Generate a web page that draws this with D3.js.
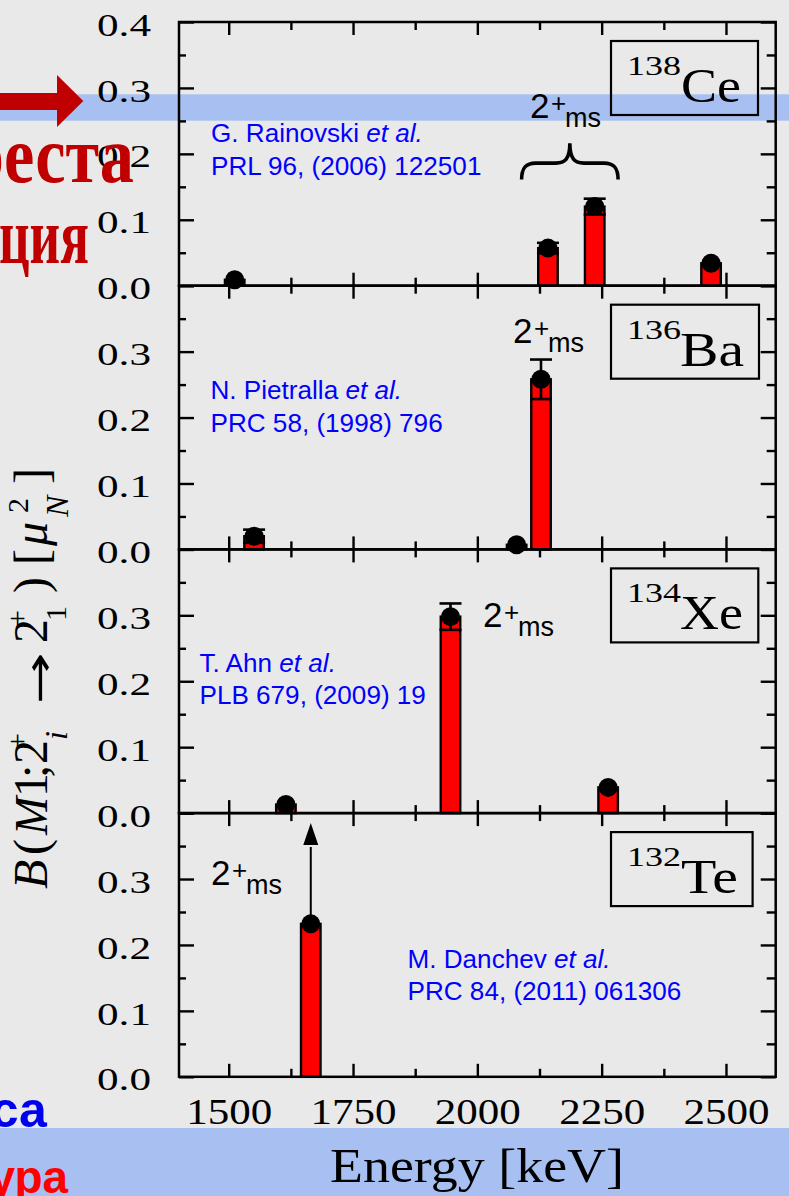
<!DOCTYPE html>
<html><head><meta charset="utf-8">
<script src="https://cdn.jsdelivr.net/npm/d3@7"></script>
<style>html,body{margin:0;padding:0;background:#e9e9e9;overflow:hidden}svg{display:block}</style>
</head><body>
<svg id="c" width="789" height="1196"></svg>
<script>
// ---------------- data ----------------
const massNumbers = ["138", "136", "134", "132"];
const elements    = ["Ce", "Ba", "Xe", "Te"];
const ceEnergy = [1512, 2142, 2236, 2470];
const ceValue  = [0.009, 0.057, 0.120, 0.034];
const ceError  = [0, 0.008, 0.012, 0];
const baEnergy = [1551, 2079, 2128];
const baValue  = [0.020, 0.007, 0.258];
const baError  = [0.010, 0, 0.030];
const xeEnergy = [1615, 1946, 2263];
const xeValue  = [0.013, 0.298, 0.039];
const xeError  = [0, 0.020, 0];
const teEnergy = [1665];
const teValue  = [0.232];
const teError  = [0];
const teLowerLimitTip = [0.385];
const energyTicks = [1500, 1750, 2000, 2250, 2500];
const energyMinor = [1625, 1875, 2125, 2375];
const bTicks = [0, 0.1, 0.2, 0.3, 0.4];
const bMinor = [0.05, 0.15, 0.25, 0.35];
const refAuthors  = ["G. Rainovski", "N. Pietralla", "T. Ahn", "M. Danchev"];
const refJournals = ["PRL 96, (2006) 122501", "PRC 58, (1998) 796", "PLB 679, (2009) 19", "PRC 84, (2011) 061306"];
const msLabel = ["2", "+", "ms"];

// ---------------- layout ----------------
const svg = d3.select("#c");
const SERIF = "'Liberation Serif','Times New Roman',serif";
const SANS = "'Liberation Sans',Arial,sans-serif";
const X0 = 179, X1 = 775.7, TOP = 22, PH = 263.7;
const x = d3.scaleLinear().domain([1400, 2600]).range([X0, X1]);

svg.append("rect").attr("width", 789).attr("height", 1196).attr("fill", "#e9e9e9");
// highlight bands (behind the figure)
svg.append("rect").attr("x", 0).attr("y", 94.3).attr("width", 789).attr("height", 26.4).attr("fill", "#a7c0f1");
svg.append("rect").attr("x", 0).attr("y", 1128).attr("width", 789).attr("height", 68).attr("fill", "#a7c0f1");

const panels = [
  {energy: ceEnergy, value: ceValue, error: ceError},
  {energy: baEnergy, value: baValue, error: baError},
  {energy: xeEnergy, value: xeValue, error: xeError},
  {energy: teEnergy, value: teValue, error: teError}
];

function styleAxis(s) {
  s.select(".domain").remove();
  s.selectAll(".tick line").attr("stroke", "#000").attr("stroke-width", 2.4);
  return s;
}
const BW = 19.5;
const boxW = [147, 148, 147.3, 141.6];
const symW = [60, 64, 63, 57];
const symX = [681, 680, 680, 681];

panels.forEach((p, i) => {
  const top = TOP + i * PH, bot = top + PH;
  const y = d3.scaleLinear().domain([0, 0.4]).range([bot, top]);
  const g = svg.append("g");

  // ticks: top & bottom (inward)
  styleAxis(g.append("g").attr("transform", `translate(0,${top})`)
    .call(d3.axisBottom(x).tickValues(energyTicks).tickSize(13).tickFormat("")));
  styleAxis(g.append("g").attr("transform", `translate(0,${top})`)
    .call(d3.axisBottom(x).tickValues(energyMinor).tickSize(8).tickFormat("")));
  styleAxis(g.append("g").attr("transform", `translate(0,${bot})`)
    .call(d3.axisTop(x).tickValues(energyTicks).tickSize(13).tickFormat("")));
  styleAxis(g.append("g").attr("transform", `translate(0,${bot})`)
    .call(d3.axisTop(x).tickValues(energyMinor).tickSize(8).tickFormat("")));
  // left & right
  styleAxis(g.append("g").attr("transform", `translate(${X0},0)`)
    .call(d3.axisRight(y).tickValues(bTicks).tickSize(15).tickFormat("")));
  styleAxis(g.append("g").attr("transform", `translate(${X0},0)`)
    .call(d3.axisRight(y).tickValues(bMinor).tickSize(7).tickFormat("")));
  styleAxis(g.append("g").attr("transform", `translate(${X1},0)`)
    .call(d3.axisLeft(y).tickValues(bTicks).tickSize(15).tickFormat("")));
  styleAxis(g.append("g").attr("transform", `translate(${X1},0)`)
    .call(d3.axisLeft(y).tickValues(bMinor).tickSize(9).tickFormat("")));

  // y tick labels
  const lab = g.append("g").attr("transform", `translate(${X0},0)`)
    .call(d3.axisLeft(y).tickValues(i === 0 ? bTicks : bTicks.slice(0, 4))
      .tickSize(0).tickPadding(28).tickFormat(d3.format(".1f")));
  lab.select(".domain").remove();
  lab.selectAll("text").attr("font-family", SERIF).attr("font-size", 32).attr("fill", "#000")
    .attr("dy", "0.41em").attr("textLength", 54).attr("lengthAdjust", "spacingAndGlyphs");

  // bars
  const idx = d3.range(p.energy.length);
  g.selectAll("rect.bar").data(idx).join("rect").attr("class", "bar")
    .attr("x", k => x(p.energy[k]) - BW / 2).attr("width", BW)
    .attr("y", k => y(p.value[k])).attr("height", k => y(0) - y(p.value[k]))
    .attr("fill", "#ff0000").attr("stroke", "#000").attr("stroke-width", 2.4);
  // markers
  g.selectAll("circle.pt").data(idx).join("circle").attr("class", "pt")
    .attr("cx", k => x(p.energy[k])).attr("cy", k => y(p.value[k])).attr("r", 9.5).attr("fill", "#000");
  // error bars
  const eb = idx.filter(k => p.error[k] > 0);
  eb.forEach(k => {
    const cx = x(p.energy[k]), y1 = y(p.value[k] + p.error[k]), y2 = y(p.value[k] - p.error[k]);
    g.append("line").attr("x1", cx).attr("x2", cx).attr("y1", y1).attr("y2", y2).attr("stroke", "#000").attr("stroke-width", 2.6);
    [y1, y2].forEach(yy => g.append("line").attr("x1", cx - 11).attr("x2", cx + 11).attr("y1", yy).attr("y2", yy)
      .attr("stroke", "#000").attr("stroke-width", 2.6));
  });

  // frame
  g.append("rect").attr("x", X0).attr("y", top).attr("width", X1 - X0).attr("height", PH)
    .attr("fill", "none").attr("stroke", "#000").attr("stroke-width", 2.5);

  // nucleus box
  g.append("rect").attr("x", 611).attr("y", top + 19).attr("width", boxW[i]).attr("height", 74)
    .attr("fill", "none").attr("stroke", "#000").attr("stroke-width", 2.2);
  const nt = g.append("text").attr("font-family", SERIF).attr("fill", "#000");
  nt.append("tspan").attr("x", 627).attr("y", top + 53).attr("font-size", 27)
    .attr("textLength", 54).attr("lengthAdjust", "spacingAndGlyphs").text(massNumbers[i]);
  nt.append("tspan").attr("x", symX[i]).attr("y", top + 80).attr("font-size", 48)
    .attr("textLength", symW[i]).attr("lengthAdjust", "spacingAndGlyphs").text(elements[i]);

  // bottom panel energy labels
  if (i === 3) {
    const xl = g.append("g").attr("transform", `translate(0,${bot})`)
      .call(d3.axisBottom(x).tickValues(energyTicks).tickSize(0).tickFormat(d3.format("d")));
    xl.select(".domain").remove();
    xl.selectAll("text").attr("font-family", SERIF).attr("font-size", 35).attr("fill", "#000")
      .attr("y", 47).attr("dy", 0).attr("textLength", 86).attr("lengthAdjust", "spacingAndGlyphs");
    // lower-limit arrow
    const ax = x(teEnergy[0]);
    const yTip = y(teLowerLimitTip[0]), yBase = yTip + 22;
    g.append("line").attr("x1", ax).attr("x2", ax).attr("y1", y(teValue[0])).attr("y2", yBase + 2)
      .attr("stroke", "#000").attr("stroke-width", 2);
    g.append("path").attr("d", `M${ax},${yTip} L${ax - 7.5},${yBase} L${ax + 7.5},${yBase} Z`).attr("fill", "#000");
  }
  if (i === 0) {
    // brace over the fragmented 2+ms states
    const bx1 = x(2089), bx2 = x(2283), bm = (bx1 + bx2) / 2;
    const ye = y(0.161), yl = y(0.186), yt = y(0.216);
    g.append("path").attr("d",
      `M${bx1},${ye} C${bx1},${yl + 4} ${bx1 + 5},${yl} ${bx1 + 14},${yl} L${bm - 14},${yl} C${bm - 5},${yl} ${bm},${yl - 4} ${bm},${yt}` +
      ` C${bm},${yl - 4} ${bm + 5},${yl} ${bm + 14},${yl} L${bx2 - 14},${yl} C${bx2 - 5},${yl} ${bx2},${yl + 4} ${bx2},${ye}`)
      .attr("fill", "none").attr("stroke", "#000").attr("stroke-width", 3.6);
  }
});

// 2+ms labels
[[530, 118], [513, 343], [483, 627], [211, 885]].forEach(([x0, y0]) => {
  const t = svg.append("text").attr("font-family", SANS).attr("fill", "#000");
  t.append("tspan").attr("x", x0).attr("y", y0).attr("font-size", 35).text(msLabel[0]);
  t.append("tspan").attr("x", x0 + 21).attr("y", y0 - 6).attr("font-size", 26).text(msLabel[1]);
  t.append("tspan").attr("x", x0 + 35).attr("y", y0 + 9).attr("font-size", 27).text(msLabel[2]);
});

// references
[[211, 142.3], [210.5, 399.3], [199.5, 671.7], [407.5, 967.7]].forEach(([x0, y0], i) => {
  const g = svg.append("g").attr("transform", `translate(${x0},0) scale(1.045,1)`)
    .attr("font-family", SANS).attr("font-size", 25).attr("fill", "#0000ff");
  const t1 = g.append("text").attr("x", 0).attr("y", y0);
  t1.append("tspan").text(refAuthors[i] + " ");
  t1.append("tspan").attr("font-style", "italic").text("et al.");
  g.append("text").attr("x", 0).attr("y", y0 + 32.5).text(refJournals[i]);
});

// x-axis title
svg.append("text").attr("x", 477).attr("y", 1182).attr("text-anchor", "middle")
  .attr("font-family", SERIF).attr("font-size", 48).attr("fill", "#000")
  .attr("textLength", 294).attr("lengthAdjust", "spacingAndGlyphs").text("Energy [keV]");

// y-axis title B(M1; 2_i^+ -> 2_1^+)[mu_N^2]
const yt = svg.append("text").attr("transform", "translate(46.7,888) rotate(-90)")
  .attr("font-family", SERIF).attr("fill", "#000");
[
  {t: "B", L: -1, y: 0, s: 48, it: true},
  {t: "(", L: 33, y: 0, s: 48},
  {t: "M", L: 53, y: 0, s: 46, it: true},
  {t: "1", L: 91, y: 0, s: 48},
  {t: ";", L: 110, y: 0, s: 48},
  {t: "2", L: 124, y: 0, s: 48},
  {t: "+", L: 138, y: -20, s: 30},
  {t: "i", L: 148, y: 20, s: 32, it: true},
  {t: "\u2192", L: 184, y: 6, s: 40, w: 52, f: "'DejaVu Sans',sans-serif"},
  {t: "2", L: 245, y: 0, s: 48},
  {t: "+", L: 261, y: -20, s: 30},
  {t: "1", L: 267, y: 19, s: 30},
  {t: ")", L: 295, y: 0, s: 48},
  {t: "[", L: 323, y: 0, s: 48},
  {t: "\u03bc", L: 342, y: 0, s: 48, it: true},
  {t: "N", L: 371, y: 21, s: 32, it: true},
  {t: "2", L: 375, y: -19, s: 30},
  {t: "]", L: 404, y: 0, s: 48}
].forEach(d => {
  const ts = yt.append("tspan").attr("x", d.L).attr("y", d.y).attr("font-size", d.s)
    .attr("font-style", d.it ? "italic" : "normal").text(d.t);
  if (d.f) ts.attr("font-family", d.f);
  if (d.w) ts.attr("textLength", d.w).attr("lengthAdjust", "spacingAndGlyphs");
});

// slide fragments at the left edge
svg.append("path").attr("d", "M-5,93 L57,93 L57,75 L83.3,101 L57,127 L57,110 L-5,110 Z").attr("fill", "#c00000");
svg.append("text").attr("x", -34).attr("y", 182).attr("font-family", SERIF).attr("font-weight", "bold")
  .attr("font-size", 80).attr("fill", "#c00000").attr("textLength", 168).attr("lengthAdjust", "spacingAndGlyphs").text("реста");
svg.append("text").attr("x", -1).attr("y", 263).attr("font-family", SERIF).attr("font-weight", "bold")
  .attr("font-size", 80).attr("fill", "#c00000").attr("textLength", 90).attr("lengthAdjust", "spacingAndGlyphs").text("ция");
svg.append("text").attr("x", -9.3).attr("y", 1127).attr("font-family", SANS).attr("font-weight", "bold")
  .attr("font-size", 50).attr("fill", "#0000f0").text("са");
svg.append("text").attr("x", -10.6).attr("y", 1193).attr("font-family", SANS).attr("font-weight", "bold")
  .attr("font-size", 46).attr("fill", "#ff0000").text("ура");
</script>
</body></html>
